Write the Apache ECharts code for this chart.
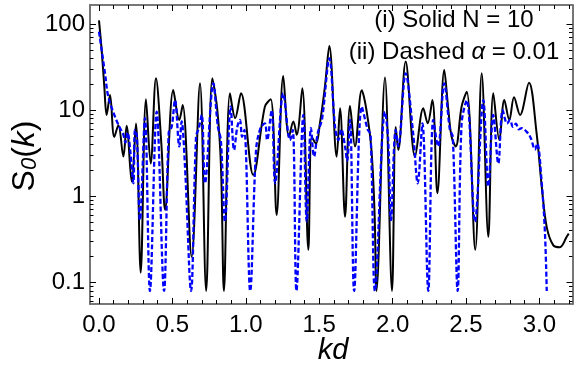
<!DOCTYPE html>
<html><head><meta charset="utf-8">
<script src="https://cdn.jsdelivr.net/npm/echarts@6/dist/echarts.min.js"></script>
<style>html,body{margin:0;padding:0;background:#fff}#c{width:575px;height:380px}</style>
</head><body><div id="c"></div>
<script>
// ---- data ----
const kdSolid = [0.000,0.018,0.036,0.052,0.075,0.104,0.132,0.166,0.188,0.223,0.252,0.284,0.320,0.352,0.388,0.425,0.450,0.506,0.547,0.570,0.631,0.688,0.730,0.772,0.806,0.831,0.851,0.892,0.928,0.967,1.051,1.130,1.170,1.210,1.255,1.294,1.324,1.347,1.385,1.426,1.449,1.478,1.505,1.539,1.569,1.619,1.642,1.676,1.710,1.744,1.790,1.822,1.856,1.878,1.890,1.948,1.996,2.021,2.039,2.089,2.153,2.209,2.239,2.271,2.305,2.352,2.380,2.402,2.430,2.470,2.505,2.563,2.607,2.652,2.686,2.727,2.761,2.795,2.827,2.868,2.929,2.981,3.016,3.050,3.095,3.140,3.186,3.200];
const sSolid  = [110,50,19,8.8,15,4.9,6.7,2.9,6.6,1.48,7.0,0.13,13.4,2.4,23.5,4,0.7,17.1,7.7,11.5,0.2,20.5,0.08,23.5,10,2.2,0.08,15.7,8.1,15.7,1.77,11,13.4,0.61,25,4.9,7.4,5.2,18,0.24,4.9,4.1,7.05,18.8,55.6,2.9,10.5,0.58,11.2,3.8,17,10,3.45,0.58,0.08,24,0.08,6.4,3.45,36.6,2.9,10.5,7.05,13.1,1.09,29.3,10,4.9,3.8,11,16.4,0.24,26.8,0.34,15.7,4.5,13.1,7.7,14.1,8.8,20.8,5.4,1.3,0.44,0.27,0.257,0.34,0.37];
const kdDashed = [0.000,0.041,0.063,0.109,0.143,0.166,0.180,0.195,0.212,0.234,0.245,0.258,0.279,0.313,0.347,0.393,0.443,0.475,0.495,0.518,0.547,0.563,0.586,0.627,0.661,0.680,0.700,0.722,0.779,0.810,0.830,0.858,0.897,0.920,0.942,0.960,0.975,0.990,1.030,1.070,1.100,1.130,1.145,1.176,1.200,1.255,1.290,1.300,1.320,1.345,1.392,1.415,1.444,1.465,1.490,1.520,1.569,1.608,1.630,1.650,1.676,1.690,1.710,1.738,1.790,1.830,1.850,1.880,1.948,1.970,1.989,2.021,2.039,2.089,2.140,2.171,2.203,2.243,2.277,2.310,2.352,2.390,2.410,2.443,2.470,2.505,2.561,2.618,2.652,2.686,2.720,2.750,2.780,2.800,2.820,2.840,2.860,2.880,2.914,2.940,2.970,2.985,3.016,3.038,3.050];
const sDashed  = [81.5,26.8,14.4,8.4,6.2,5.2,4.2,5.5,3.5,1.42,5.9,5.0,0.53,8.1,0.08,9.6,0.08,5.5,6.4,13.1,3.8,7.4,2.2,0.08,4.9,6.2,8.8,1.42,20.5,6.4,4.5,0.51,11,3.45,6.4,7.7,4.9,5.9,0.08,3.45,6.2,7.05,4.5,10,1.42,15.7,5.2,4.5,5.9,0.08,8.8,0.51,6.2,2.9,5.4,8,40,6.4,4.5,6.0,3.8,2.6,7.7,0.08,11,6.0,5.2,0.08,9.6,4.5,0.53,5.9,3.8,26.8,5.4,1.42,7.05,0.08,7.7,3.8,20.5,6.0,4.9,0.08,7,13,0.51,13.1,1.3,8.8,2.4,10,7.0,7.7,6.4,7.0,6.0,6.2,5.6,4.8,3.5,4.1,1.42,0.37,0.08];
const xTickLabels = [0, 0.5, 1, 1.5, 2, 2.5, 3];
const xMinorTicks = [0.1,0.2,0.3,0.4,0.6,0.7,0.8,0.9,1.1,1.2,1.3,1.4,1.6,1.7,1.8,1.9,2.1,2.2,2.3,2.4,2.6,2.7,2.8,2.9,3.1,3.2];
const yTickLabels = [0.1, 1, 10, 100];
const yMinorTicks = [0.06,0.07,0.08,0.09,0.2,0.3,0.4,0.5,0.6,0.7,0.8,0.9,2,3,4,5,6,7,8,9,20,30,40,50,60,70,80,90];
const legendLine1 = '(i) Solid N = 10';
const xTitle = 'kd';

const XMIN = -0.0613, XMAX = 3.2255;
const YMIN = 0.05644, YMAX = 166.1;
const FONT = 'Liberation Sans, Arial, sans-serif';
const AX = '#707070';

function xAx(pos, ticks, len, withLabels) {
  return {
    type: 'value', min: XMIN, max: XMAX, position: pos,
    axisLine: {show: true, onZero: false, lineStyle: {color: AX, width: 1.6}},
    axisTick: {show: true, inside: true, length: len, customValues: ticks, lineStyle: {color: '#000', width: 1}},
    axisLabel: withLabels ? {show: true, customValues: ticks, margin: 9, color: '#000', fontSize: 24, fontFamily: FONT,
      formatter: v => Number(v).toFixed(1)} : {show: false},
    splitLine: {show: false}
  };
}
function yAx(pos, ticks, len, withLabels) {
  return {
    type: 'log', logBase: 10, min: YMIN, max: YMAX, position: pos,
    axisLine: {show: true, onZero: false, lineStyle: {color: AX, width: 1.6}},
    axisTick: {show: true, inside: true, length: len, customValues: ticks, lineStyle: {color: '#000', width: 1}},
    axisLabel: withLabels ? {show: true, customValues: ticks, margin: 5, color: '#000', fontSize: 24, fontFamily: FONT,
      formatter: v => String(Number(Number(v).toPrecision(3)))} : {show: false},
    splitLine: {show: false}, minorTick: {show: false}
  };
}

const chart = echarts.init(document.getElementById('c'), null, {renderer: 'canvas'});
chart.setOption({
  animation: false,
  backgroundColor: '#fff',
  grid: {left: 90, right: 2.5, top: 5, bottom: 76, containLabel: false, outerBoundsMode: 'none'},
  xAxis: [
    xAx('bottom', xTickLabels, 6, true),
    xAx('bottom', xMinorTicks, 4, false),
    xAx('top', xTickLabels, 6, false),
    xAx('top', xMinorTicks, 4, false)
  ],
  yAxis: [
    yAx('left', yTickLabels, 6, true),
    yAx('left', yMinorTicks, 3.5, false),
    yAx('right', yTickLabels, 6, false),
    yAx('right', yMinorTicks, 3.5, false)
  ],
  series: [
    {type: 'line', xAxisIndex: 0, yAxisIndex: 0, data: kdSolid.map((k, i) => [k, sSolid[i]]),
     showSymbol: false, smooth: 0.35, clip: true, lineStyle: {color: '#000', width: 2}},
    {type: 'line', xAxisIndex: 0, yAxisIndex: 0, data: kdDashed.map((k, i) => [k, sDashed[i]]),
     showSymbol: false, smooth: 0.35, clip: true, lineStyle: {color: '#0000ff', width: 2.3, type: [5, 2.5]}}
  ],
  graphic: [
    {type: 'text', x: 454, y: 20, style: {text: legendLine1, fill: '#000', font: '24px ' + FONT, textAlign: 'center', textVerticalAlign: 'middle'}},
    {type: 'text', x: 454, y: 52, style: {
      text: '{n|(ii) Dashed }{i|α}{n| = 0.01}', textAlign: 'center', textVerticalAlign: 'middle',
      rich: {n: {fontSize: 24, fontFamily: FONT, fill: '#000'}, i: {fontSize: 24, fontFamily: FONT, fontStyle: 'italic', fill: '#000'}}}},
    {type: 'text', x: 333, y: 351, style: {text: xTitle, fill: '#000', font: 'italic 29px ' + FONT, textAlign: 'center', textVerticalAlign: 'middle'}},
    {type: 'text', x: 23, y: 156, rotation: Math.PI / 2, style: {
      text: '{a|S}{b|0}{a|(}{c|k}{a|)}', textAlign: 'center', textVerticalAlign: 'middle',
      rich: {
        a: {fontSize: 32, fontFamily: FONT, lineHeight: 36, verticalAlign: 'bottom', fill: '#000'},
        b: {fontSize: 22, fontFamily: FONT, fontStyle: 'italic', lineHeight: 24, verticalAlign: 'bottom', fill: '#000'},
        c: {fontSize: 32, fontFamily: FONT, fontStyle: 'italic', lineHeight: 36, verticalAlign: 'bottom', fill: '#000'}
      }}}
  ]
});
</script></body></html>
